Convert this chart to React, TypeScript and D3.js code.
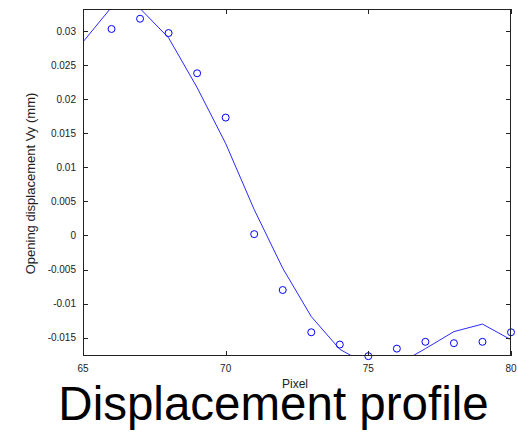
import React from "react";
import * as d3 from "d3";

const pixelsLine = [65, 66, 67, 68, 69, 70, 71, 72, 73, 74, 75, 76, 77, 78, 79, 80];
const fittedVy = [0.0284, 0.0335, 0.0333, 0.029, 0.0217, 0.0135, 0.0038, -0.0048, -0.0119, -0.0167, -0.019, -0.019, -0.0166, -0.0141, -0.013, -0.0153];
const pixelsMeasured = [66, 67, 68, 69, 70, 71, 72, 73, 74, 75, 76, 77, 78, 79, 80];
const measuredVy = [0.0303, 0.0318, 0.0297, 0.0238, 0.0173, 0.0002, -0.008, -0.0142, -0.016, -0.0177, -0.0166, -0.0156, -0.0158, -0.0156, -0.0142];
const xTicks = [65, 70, 75, 80];
const yTicks = [-0.015, -0.01, -0.005, 0, 0.005, 0.01, 0.015, 0.02, 0.025, 0.03];

const W = 517;
const H = 432;
const L = 83, R = 511, T = 9, B = 356;

export default function App() {
  const x = d3.scaleLinear().domain([65, 80]).range([L, R]);
  const y = d3.scaleLinear().domain([-0.01768, 0.03323]).range([B, T]);
  const line = d3
    .line<number>()
    .x((_, i) => x(pixelsLine[i]))
    .y((d) => y(d));
  const fmt = (v: number) => String(+v.toFixed(3));
  const font = "'Liberation Sans', Arial, sans-serif";
  return (
    <svg
      width={W}
      height={H}
      style={{ position: "absolute", left: 0, top: 0, background: "#fff" }}
      fontFamily={font}
    >
      <defs>
        <clipPath id="plotclip">
          <rect x={L} y={T} width={R - L} height={B - T} />
        </clipPath>
      </defs>
      <rect x={0} y={0} width={W} height={H} fill="#fff" />
      <path
        d={line(fittedVy) || ""}
        fill="none"
        stroke="#2a2aff"
        strokeWidth={1}
        clipPath="url(#plotclip)"
      />
      {measuredVy.map((v, i) => (
        <circle
          key={i}
          cx={x(pixelsMeasured[i])}
          cy={y(v)}
          r={3.5}
          fill="none"
          stroke="#0000ff"
          strokeWidth={1}
        />
      ))}
      {/* frame */}
      <rect x={L + 0.5} y={T + 0.5} width={R - L - 1} height={B - T - 1} fill="none" stroke="#222" strokeWidth={1} />
      {/* x ticks */}
      {xTicks.map((t) => (
        <g key={"x" + t}>
          <line x1={Math.round(x(t)) + 0.5} x2={Math.round(x(t)) + 0.5} y1={B} y2={B - 5} stroke="#222" />
          <line x1={Math.round(x(t)) + 0.5} x2={Math.round(x(t)) + 0.5} y1={T} y2={T + 5} stroke="#222" />
          <text x={x(t)} y={372} fontSize={10} textAnchor="middle" fill="#222">
            {t}
          </text>
        </g>
      ))}
      {/* y ticks */}
      {yTicks.map((t) => (
        <g key={"y" + t}>
          <line x1={L} x2={L + 5} y1={Math.round(y(t)) + 0.5} y2={Math.round(y(t)) + 0.5} stroke="#222" />
          <line x1={R} x2={R - 5} y1={Math.round(y(t)) + 0.5} y2={Math.round(y(t)) + 0.5} stroke="#222" />
          <text x={76} y={y(t) + 3.6} fontSize={10} textAnchor="end" fill="#222">
            {fmt(t)}
          </text>
        </g>
      ))}
      <text x={295} y={388} fontSize={12} textAnchor="middle" fill="#222">
        Pixel
      </text>
      <text
        transform={`translate(35,${(90 + 277) / 2}) rotate(-90)`}
        fontSize={13}
        textAnchor="middle"
        fill="#222"
      >
        Opening displacement Vy (mm)
      </text>
      <text x={273.5} y={420} fontSize={47.5} textAnchor="middle" fill="#000">
        Displacement profile
      </text>
    </svg>
  );
}
